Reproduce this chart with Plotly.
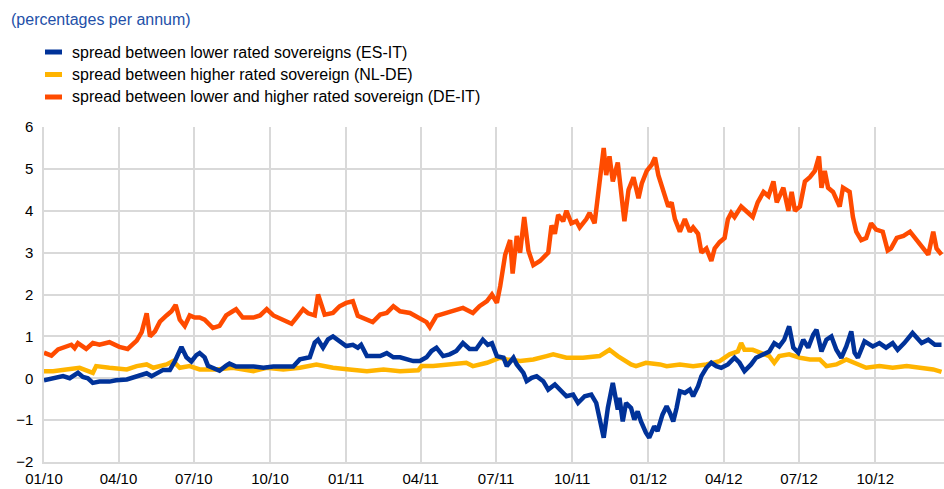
#!/usr/bin/env python3
# -*- coding: utf-8 -*-

import plotly.graph_objects as go

# spread between lower and higher rated sovereign (DE-IT)
de_it_dates = [
    "2010-01-01", "2010-01-10", "2010-01-18", "2010-01-28", "2010-02-03", "2010-02-07", "2010-02-11", "2010-02-21",
    "2010-03-01", "2010-03-09", "2010-03-21", "2010-04-02", "2010-04-12", "2010-04-23", "2010-04-29", "2010-05-05",
    "2010-05-09", "2010-05-15", "2010-05-21", "2010-05-29", "2010-06-04", "2010-06-09", "2010-06-14", "2010-06-20",
    "2010-06-26", "2010-07-02", "2010-07-08", "2010-07-14", "2010-07-24", "2010-08-01", "2010-08-09", "2010-08-17",
    "2010-08-21", "2010-08-29", "2010-09-11", "2010-09-19", "2010-09-27", "2010-10-05", "2010-10-17", "2010-10-27",
    "2010-11-02", "2010-11-10", "2010-11-16", "2010-11-24", "2010-11-28", "2010-12-06", "2010-12-16", "2010-12-24",
    "2011-01-01", "2011-01-09", "2011-01-15", "2011-01-23", "2011-02-02", "2011-02-11", "2011-02-19", "2011-02-27",
    "2011-03-07", "2011-03-19", "2011-03-31", "2011-04-08", "2011-04-12", "2011-04-20", "2011-05-02", "2011-05-14",
    "2011-05-22", "2011-06-03", "2011-06-11", "2011-06-20", "2011-06-26", "2011-07-02", "2011-07-06", "2011-07-12",
    "2011-07-18", "2011-07-21", "2011-07-26", "2011-07-30", "2011-08-04", "2011-08-09", "2011-08-15", "2011-08-23",
    "2011-09-02", "2011-09-06", "2011-09-10", "2011-09-14", "2011-09-20", "2011-09-24", "2011-09-30", "2011-10-06",
    "2011-10-10", "2011-10-18", "2011-10-22", "2011-10-28", "2011-11-01", "2011-11-05", "2011-11-08", "2011-11-11",
    "2011-11-15", "2011-11-19", "2011-11-25", "2011-12-03", "2011-12-08", "2011-12-14", "2011-12-20", "2011-12-24",
    "2011-12-30", "2012-01-05", "2012-01-09", "2012-01-13", "2012-01-19", "2012-01-25", "2012-01-29", "2012-02-02",
    "2012-02-08", "2012-02-14", "2012-02-20", "2012-02-24", "2012-03-01", "2012-03-05", "2012-03-11", "2012-03-17",
    "2012-03-21", "2012-03-27", "2012-04-02", "2012-04-06", "2012-04-10", "2012-04-14", "2012-04-22", "2012-04-30",
    "2012-05-06", "2012-05-12", "2012-05-19", "2012-05-25", "2012-05-31", "2012-06-04", "2012-06-12", "2012-06-18",
    "2012-06-22", "2012-06-26", "2012-07-02", "2012-07-08", "2012-07-14", "2012-07-20", "2012-07-25", "2012-07-28",
    "2012-08-01", "2012-08-05", "2012-08-11", "2012-08-19", "2012-08-23", "2012-08-31", "2012-09-04", "2012-09-08",
    "2012-09-14", "2012-09-20", "2012-09-26", "2012-10-02", "2012-10-10", "2012-10-16", "2012-10-20", "2012-10-27",
    "2012-11-04", "2012-11-12", "2012-11-20", "2012-11-30", "2012-12-04", "2012-12-10", "2012-12-14", "2012-12-20",
]
de_it = [
    0.61, 0.54, 0.69, 0.76, 0.80, 0.72, 0.84, 0.70,
    0.84, 0.80, 0.86, 0.75, 0.70, 0.90, 1.10, 1.55,
    1.00, 1.12, 1.35, 1.50, 1.60, 1.75, 1.40, 1.25,
    1.50, 1.45, 1.45, 1.40, 1.20, 1.25, 1.50, 1.60,
    1.65, 1.45, 1.45, 1.50, 1.65, 1.50, 1.40, 1.30,
    1.45, 1.65, 1.55, 1.50, 2.00, 1.52, 1.56, 1.72,
    1.80, 1.84, 1.49, 1.42, 1.34, 1.52, 1.56, 1.72,
    1.60, 1.56, 1.44, 1.34, 1.22, 1.49, 1.56, 1.64,
    1.68, 1.56, 1.72, 1.84, 2.00, 1.80, 2.20, 2.95,
    3.30, 2.50, 3.40, 3.00, 3.85, 3.05, 2.70, 2.80,
    3.00, 3.65, 3.45, 3.90, 3.75, 4.00, 3.70, 3.75,
    3.60, 3.80, 3.95, 3.70, 4.35, 4.90, 5.50, 4.85,
    5.30, 4.70, 5.15, 3.75, 4.50, 4.80, 4.30, 4.65,
    4.95, 5.10, 5.27, 4.85, 4.50, 4.10, 4.20, 3.80,
    3.50, 3.80, 3.50, 3.60, 3.45, 3.00, 3.10, 2.80,
    3.10, 3.25, 3.35, 3.80, 3.95, 3.85, 4.10, 3.95,
    3.85, 4.20, 4.45, 4.35, 4.70, 4.20, 4.55, 4.00,
    4.45, 4.00, 4.10, 4.70, 4.80, 4.95, 5.30, 4.55,
    4.95, 4.55, 4.45, 4.10, 4.55, 4.45, 3.85, 3.50,
    3.30, 3.35, 3.70, 3.55, 3.50, 3.05, 3.10, 3.35,
    3.40, 3.50, 3.30, 3.05, 2.95, 3.50, 3.10, 2.95,
]

# spread between lower rated sovereigns (ES-IT)
es_it_dates = [
    "2010-01-01", "2010-01-12", "2010-01-24", "2010-02-01", "2010-02-07", "2010-02-11", "2010-02-17", "2010-02-23",
    "2010-03-01", "2010-03-09", "2010-03-21", "2010-03-29", "2010-04-11", "2010-04-23", "2010-04-27", "2010-05-05",
    "2010-05-11", "2010-05-17", "2010-05-25", "2010-06-02", "2010-06-08", "2010-06-16", "2010-06-22", "2010-06-28",
    "2010-07-04", "2010-07-08", "2010-07-14", "2010-07-18", "2010-07-24", "2010-08-01", "2010-08-09", "2010-08-13",
    "2010-08-21", "2010-08-29", "2010-09-11", "2010-09-23", "2010-10-05", "2010-10-21", "2010-10-29", "2010-11-06",
    "2010-11-18", "2010-11-24", "2010-11-28", "2010-12-04", "2010-12-10", "2010-12-16", "2010-12-24", "2011-01-01",
    "2011-01-09", "2011-01-15", "2011-01-19", "2011-01-26", "2011-02-02", "2011-02-11", "2011-02-19", "2011-02-27",
    "2011-03-07", "2011-03-15", "2011-03-23", "2011-03-31", "2011-04-08", "2011-04-14", "2011-04-20", "2011-04-28",
    "2011-05-06", "2011-05-14", "2011-05-22", "2011-05-30", "2011-06-07", "2011-06-15", "2011-06-21", "2011-06-26",
    "2011-07-02", "2011-07-10", "2011-07-14", "2011-07-22", "2011-07-26", "2011-08-03", "2011-08-07", "2011-08-13",
    "2011-08-19", "2011-08-27", "2011-09-02", "2011-09-10", "2011-09-16", "2011-09-24", "2011-10-02", "2011-10-08",
    "2011-10-16", "2011-10-24", "2011-10-30", "2011-11-03", "2011-11-08", "2011-11-13", "2011-11-19", "2011-11-25",
    "2011-11-27", "2011-12-01", "2011-12-05", "2011-12-11", "2011-12-15", "2011-12-19", "2011-12-23", "2011-12-29",
    "2012-01-02", "2012-01-08", "2012-01-12", "2012-01-18", "2012-01-23", "2012-01-27", "2012-01-31", "2012-02-04",
    "2012-02-08", "2012-02-14", "2012-02-20", "2012-02-24", "2012-03-01", "2012-03-05", "2012-03-11", "2012-03-17",
    "2012-03-23", "2012-03-29", "2012-04-06", "2012-04-14", "2012-04-20", "2012-04-26", "2012-05-04", "2012-05-10",
    "2012-05-18", "2012-05-26", "2012-06-01", "2012-06-07", "2012-06-13", "2012-06-19", "2012-06-24", "2012-06-30",
    "2012-07-06", "2012-07-12", "2012-07-18", "2012-07-22", "2012-07-28", "2012-08-03", "2012-08-09", "2012-08-15",
    "2012-08-21", "2012-08-27", "2012-09-02", "2012-09-06", "2012-09-10", "2012-09-18", "2012-09-28", "2012-10-06",
    "2012-10-14", "2012-10-22", "2012-10-28", "2012-11-05", "2012-11-15", "2012-11-26", "2012-12-04", "2012-12-12",
    "2012-12-20",
]
es_it = [
    -0.05, 0.00, 0.05, 0.00, 0.08, 0.13, 0.03, 0.00,
    -0.11, -0.08, -0.08, -0.05, -0.03, 0.05, 0.08, 0.12,
    0.05, 0.12, 0.20, 0.20, 0.40, 0.75, 0.50, 0.40,
    0.55, 0.60, 0.50, 0.30, 0.25, 0.18, 0.30, 0.35,
    0.28, 0.28, 0.28, 0.25, 0.28, 0.28, 0.28, 0.45,
    0.50, 0.85, 0.92, 0.73, 0.93, 1.00, 0.88, 0.77,
    0.80, 0.73, 0.80, 0.53, 0.53, 0.53, 0.60, 0.50,
    0.50, 0.45, 0.41, 0.41, 0.50, 0.65, 0.73, 0.53,
    0.57, 0.65, 0.84, 0.70, 0.70, 0.92, 0.80, 0.84,
    0.53, 0.49, 0.29, 0.49, 0.33, 0.13, -0.07, 0.01,
    0.05, -0.07, -0.27, -0.15, -0.27, -0.43, -0.39, -0.59,
    -0.43, -0.39, -0.59, -0.91, -1.42, -0.71, -0.11, -0.75,
    -0.47, -1.03, -0.59, -0.71, -0.99, -0.79, -1.03, -1.30,
    -1.42, -1.15, -1.26, -0.87, -0.67, -0.83, -1.03, -0.71,
    -0.31, -0.35, -0.27, -0.43, -0.19, 0.05, 0.25, 0.37,
    0.29, 0.25, 0.33, 0.49, 0.37, 0.17, 0.33, 0.49,
    0.57, 0.64, 0.84, 0.76, 0.92, 1.24, 0.73, 0.61,
    0.92, 0.73, 1.04, 1.16, 0.64, 0.92, 1.00, 0.68,
    0.49, 0.76, 1.12, 0.61, 0.49, 0.88, 0.76, 0.84,
    0.73, 0.84, 0.68, 0.84, 1.08, 0.84, 0.92, 0.80,
    0.80,
]

# spread between higher rated sovereign (NL-DE)
nl_de_dates = [
    "2010-01-01", "2010-01-12", "2010-01-28", "2010-02-13", "2010-03-01", "2010-03-05", "2010-03-21", "2010-04-11",
    "2010-04-23", "2010-05-05", "2010-05-13", "2010-05-29", "2010-06-06", "2010-06-14", "2010-06-26", "2010-07-08",
    "2010-07-28", "2010-08-17", "2010-09-11", "2010-09-27", "2010-10-17", "2010-11-06", "2010-11-26", "2010-12-16",
    "2011-01-05", "2011-01-26", "2011-02-15", "2011-03-07", "2011-03-29", "2011-04-02", "2011-04-16", "2011-05-06",
    "2011-05-26", "2011-06-03", "2011-06-20", "2011-07-06", "2011-07-14", "2011-07-30", "2011-08-15", "2011-08-31",
    "2011-09-08", "2011-09-24", "2011-10-14", "2011-11-03", "2011-11-15", "2011-11-25", "2011-12-05", "2011-12-11",
    "2011-12-17", "2011-12-29", "2012-01-15", "2012-01-23", "2012-02-08", "2012-02-24", "2012-03-11", "2012-03-27",
    "2012-04-08", "2012-04-18", "2012-04-22", "2012-04-26", "2012-05-06", "2012-05-14", "2012-05-26", "2012-06-01",
    "2012-06-07", "2012-06-19", "2012-07-02", "2012-07-14", "2012-07-26", "2012-08-03", "2012-08-15", "2012-08-27",
    "2012-09-07", "2012-09-20", "2012-10-06", "2012-10-22", "2012-11-08", "2012-11-24", "2012-12-10", "2012-12-20",
]
nl_de = [
    0.17, 0.17, 0.21, 0.25, 0.13, 0.29, 0.25, 0.21,
    0.29, 0.33, 0.25, 0.33, 0.41, 0.25, 0.29, 0.21,
    0.21, 0.25, 0.17, 0.25, 0.21, 0.25, 0.33, 0.25,
    0.21, 0.17, 0.21, 0.17, 0.19, 0.29, 0.29, 0.33,
    0.37, 0.29, 0.37, 0.49, 0.45, 0.41, 0.45, 0.53,
    0.57, 0.49, 0.49, 0.53, 0.68, 0.53, 0.41, 0.33,
    0.29, 0.37, 0.33, 0.29, 0.33, 0.29, 0.33, 0.41,
    0.57, 0.64, 0.84, 0.68, 0.68, 0.61, 0.53, 0.37,
    0.53, 0.57, 0.49, 0.45, 0.45, 0.29, 0.33, 0.45,
    0.37, 0.25, 0.29, 0.25, 0.29, 0.25, 0.21, 0.15,
]

tick_dates = ["2010-01-01", "2010-04-01", "2010-07-01", "2010-10-01", "2011-01-01", "2011-04-01",
              "2011-07-01", "2011-10-01", "2012-01-01", "2012-04-01", "2012-07-01", "2012-10-01"]
tick_labels = ["01/10", "04/10", "07/10", "10/10", "01/11", "04/11",
               "07/11", "10/11", "01/12", "04/12", "07/12", "10/12"]

series = [
    ("spread between lower rated sovereigns (ES-IT)", es_it_dates, es_it, "#003299"),
    ("spread between higher rated sovereign (NL-DE)", nl_de_dates, nl_de, "#FFB400"),
    ("spread between lower and higher rated sovereign (DE-IT)", de_it_dates, de_it, "#FF4B00"),
]

W, H = 944, 489
ML, MR, MT, MB = 44, 0, 127, 27
pw, ph = W - ML - MR, H - MT - MB


def px(x):
    return (x - ML) / pw


def py(y):
    return (H - MB - y) / ph


fig = go.Figure()
# orange at the back, then yellow, blue on top
for name, d, v, c in [series[2], series[1], series[0]]:
    fig.add_trace(go.Scatter(x=d, y=v, mode="lines", name=name,
                             line=dict(color=c, width=4.5), showlegend=False))

font = "Liberation Sans, Arial, sans-serif"
shapes = []
annotations = [dict(text="(percentages per annum)", x=px(9), y=py(20), xref="paper", yref="paper",
                    xanchor="left", yanchor="middle", showarrow=False,
                    font=dict(family=font, size=16, color="#2350A8"))]
for i, (name, d, v, c) in enumerate(series):
    yy = 52 + i * 22.5
    shapes.append(dict(type="line", xref="paper", yref="paper", x0=px(45), x1=px(62),
                       y0=py(yy), y1=py(yy), line=dict(color=c, width=5)))
    annotations.append(dict(text=name, x=px(70), y=py(yy), xref="paper", yref="paper",
                            xanchor="left", yanchor="middle", showarrow=False,
                            font=dict(family=font, size=16, color="#000000")))

fig.update_layout(
    width=W, height=H,
    margin=dict(l=ML, r=MR, t=MT, b=MB, autoexpand=False),
    plot_bgcolor="white", paper_bgcolor="white",
    font=dict(family=font, size=15, color="#000000"),
    shapes=shapes, annotations=annotations,
    xaxis=dict(range=["2010-01-01", "2012-12-23"], tickvals=tick_dates, ticktext=tick_labels,
               showgrid=True, gridcolor="#d9d9d9", gridwidth=1.5, zeroline=False, automargin=False,
               showline=True, linecolor="#d9d9d9", linewidth=1.5, ticks="", tickfont=dict(size=15),
               ticklabelstandoff=2),
    yaxis=dict(range=[-2, 6], dtick=1, showgrid=True, gridcolor="#d9d9d9", gridwidth=1.5,
               zeroline=False, showline=True, linecolor="#d9d9d9", linewidth=1.5, ticks="",
               automargin=False, tickfont=dict(size=15), ticklabelstandoff=6),
)

# the page's default body margin would shift the figure by 8px
fig.write_html("out.html", config={"displayModeBar": False},
               post_script="document.body.style.margin = '0px';")
